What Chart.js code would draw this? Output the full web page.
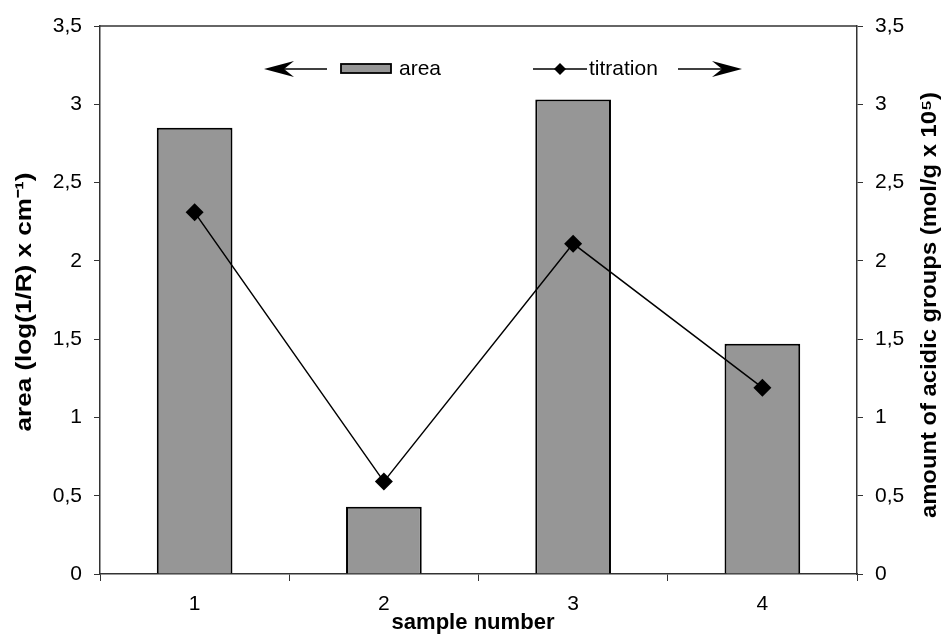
<!DOCTYPE html>
<html>
<head>
<meta charset="utf-8">
<script src="https://cdn.jsdelivr.net/npm/chart.js@4"></script>
<style>
html,body{margin:0;padding:0;background:#fff;}
#wrap{width:941px;height:637px;}
</style>
</head>
<body>
<div id="wrap"><canvas id="c" width="941" height="637"></canvas></div>
<script>
const categories = ['1', '2', '3', '4'];
const areaValues = [2.85, 0.43, 3.03, 1.47];
const titrationValues = [2.31, 0.59, 2.11, 1.19];
const yTicks = [0, 0.5, 1, 1.5, 2, 2.5, 3, 3.5];
const leftTitle = 'area (log(1/R) x cm\u207B\u00B9)';
const rightTitle = 'amount of acidic groups (mol/g x 10\u2075)';
const xTitle = 'sample number';
const legendLabels = ['area', 'titration'];

const FONT = 'Liberation Sans, Arial, sans-serif';
const fmt = v => String(v).replace('.', ',');

function drawStretched(ctx, text, cx, cy, rot, font, targetLen) {
  ctx.save();
  ctx.translate(cx, cy);
  ctx.rotate(rot);
  ctx.font = font;
  const w = ctx.measureText(text).width;
  const sx = targetLen ? targetLen / w : 1;
  ctx.scale(sx, 1);
  ctx.textAlign = 'center';
  ctx.textBaseline = 'middle';
  ctx.fillStyle = '#000';
  ctx.fillText(text, 0, 0);
  ctx.restore();
}

const legendPlugin = {
  id: 'customLegend',
  afterDraw(chart) {
    const ctx = chart.ctx;
    const a = chart.chartArea;
    ctx.save();
    // top border
    ctx.strokeStyle = '#333';
    ctx.lineWidth = 1.5;
    ctx.beginPath();
    ctx.moveTo(a.left, a.top);
    ctx.lineTo(a.right, a.top);
    ctx.stroke();

    const y = 69;
    ctx.fillStyle = '#000';
    ctx.strokeStyle = '#000';
    // left arrow
    ctx.lineWidth = 1.5;
    ctx.beginPath(); ctx.moveTo(278, y); ctx.lineTo(327, y); ctx.stroke();
    ctx.beginPath();
    ctx.moveTo(264, y); ctx.lineTo(294, y - 8); ctx.lineTo(284, y); ctx.lineTo(294, y + 8); ctx.closePath(); ctx.fill();
    // area box
    ctx.fillStyle = '#969696';
    ctx.fillRect(341, 64, 50, 9);
    ctx.lineWidth = 1.8;
    ctx.strokeRect(341, 64, 50, 9);
    ctx.fillStyle = '#000';
    ctx.font = '21px ' + FONT;
    ctx.textBaseline = 'middle';
    ctx.textAlign = 'left';
    ctx.fillText(legendLabels[0], 399, y);
    // titration line + diamond
    ctx.lineWidth = 1.5;
    ctx.beginPath(); ctx.moveTo(533, y); ctx.lineTo(587, y); ctx.stroke();
    ctx.beginPath();
    ctx.moveTo(560, y - 6); ctx.lineTo(566, y); ctx.lineTo(560, y + 6); ctx.lineTo(554, y); ctx.closePath(); ctx.fill();
    ctx.fillText(legendLabels[1], 589, y);
    // right arrow
    ctx.beginPath(); ctx.moveTo(678, y); ctx.lineTo(728, y); ctx.stroke();
    ctx.beginPath();
    ctx.moveTo(742, y); ctx.lineTo(712, y - 8); ctx.lineTo(722, y); ctx.lineTo(712, y + 8); ctx.closePath(); ctx.fill();

    // axis titles
    const bold = 'bold 22px ' + FONT;
    drawStretched(ctx, leftTitle, 25, 302, -Math.PI / 2, bold, 259);
    drawStretched(ctx, rightTitle, 930, 305, -Math.PI / 2, bold, 426);
    drawStretched(ctx, xTitle, 473, 623, 0, bold, 163);
    ctx.restore();
  }
};

new Chart(document.getElementById('c'), {
  type: 'bar',
  data: {
    labels: categories,
    datasets: [
      {
        type: 'line',
        label: legendLabels[1],
        data: titrationValues,
        yAxisID: 'y1',
        borderColor: '#000',
        borderWidth: 1.5,
        backgroundColor: '#000',
        pointStyle: 'rectRot',
        pointRadius: 9,
        pointBorderWidth: 0,
        pointBackgroundColor: '#000',
        order: 0
      },
      {
        type: 'bar',
        label: legendLabels[0],
        data: areaValues,
        yAxisID: 'y',
        backgroundColor: '#969696',
        borderColor: '#000',
        borderWidth: 2,
        barPercentage: 0.4,
        categoryPercentage: 1.0,
        order: 1
      }
    ]
  },
  options: {
    responsive: false,
    animation: false,
    devicePixelRatio: 1,
    layout: { padding: { top: 26, left: 0, right: 0, bottom: 0 } },
    plugins: { legend: { display: false }, tooltip: { enabled: false } },
    scales: {
      x: {
        offset: true,
        grid: { drawOnChartArea: false, drawTicks: true, tickLength: 7, color: '#333', offset: true },
        border: { display: true, color: '#333', width: 1.5 },
        ticks: { color: '#000', font: { family: FONT, size: 21 }, padding: 11 },
        title: { display: false },
        afterFit(s) { s.height = 63; }
      },
      y: {
        position: 'left',
        min: 0, max: 3.5,
        afterBuildTicks(s) { s.ticks = yTicks.map(v => ({ value: v })); },
        grid: { drawOnChartArea: false, drawTicks: true, tickLength: 6, color: '#333' },
        border: { display: true, color: '#333', width: 1.5 },
        ticks: { color: '#000', font: { family: FONT, size: 21 }, padding: 12, callback: v => fmt(v) },
        title: { display: false },
        afterFit(s) { s.width = 100; }
      },
      y1: {
        position: 'right',
        min: 0, max: 3.5,
        afterBuildTicks(s) { s.ticks = yTicks.map(v => ({ value: v })); },
        grid: { drawOnChartArea: false, drawTicks: true, tickLength: 6, color: '#333' },
        border: { display: true, color: '#333', width: 1.5 },
        ticks: { color: '#000', font: { family: FONT, size: 21 }, padding: 12, callback: v => fmt(v) },
        title: { display: false },
        afterFit(s) { s.width = 84; }
      }
    }
  },
  plugins: [legendPlugin]
});
</script>
</body>
</html>
